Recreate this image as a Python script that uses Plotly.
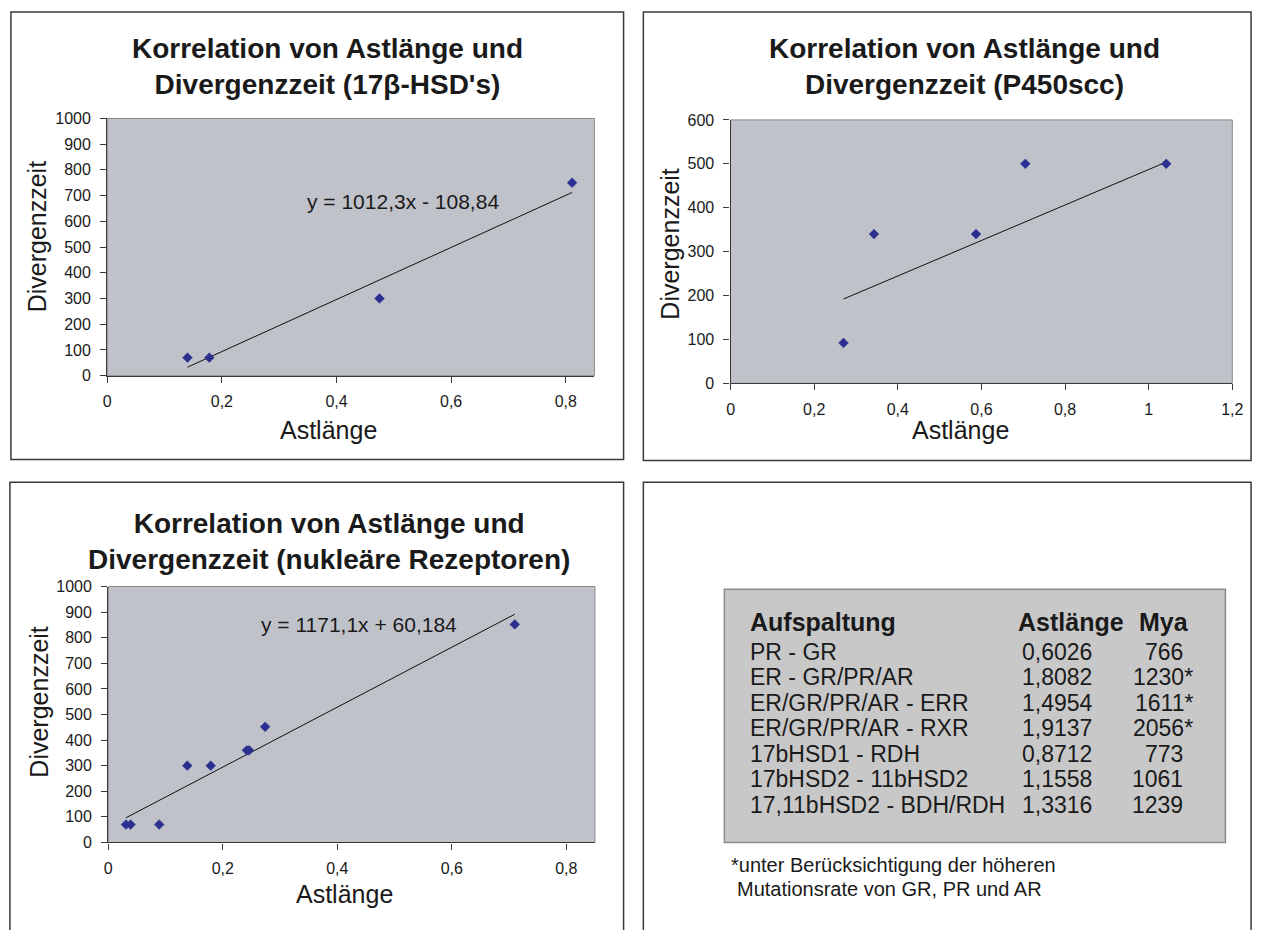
import plotly.graph_objects as go

W, H = 1269, 930

# ---------------- data ----------------
hsd_x = [0.140, 0.178, 0.475, 0.811]
hsd_y = [70, 70, 300, 750]
hsd_fit = [1012.3, -108.84]          # slope, intercept
hsd_eq = "y = 1012,3x - 108,84"

p450_x = [0.270, 0.343, 0.587, 0.705, 1.042]
p450_y = [92, 340, 340, 500, 500]
p450_trend_x = [0.270, 1.042]
p450_trend_y = [192, 504]

nr_x = [0.031, 0.039, 0.089, 0.138, 0.179, 0.242, 0.246, 0.274, 0.710]
nr_y = [70, 70, 70, 300, 300, 360, 360, 452, 852]
nr_fit = [1171.1, 60.184]
nr_eq = "y = 1171,1x + 60,184"

titles = [
    "Korrelation von Astlänge und<br>Divergenzzeit (17β-HSD's)",
    "Korrelation von Astlänge und<br>Divergenzzeit (P450scc)",
    "Korrelation von Astlänge und<br>Divergenzzeit (nukleäre Rezeptoren)",
]
x_title = "Astlänge"
y_title = "Divergenzzeit"

xt_small = [0, 0.2, 0.4, 0.6, 0.8]
xt_small_lbl = ["0", "0,2", "0,4", "0,6", "0,8"]
xt_large = [0, 0.2, 0.4, 0.6, 0.8, 1.0, 1.2]
xt_large_lbl = ["0", "0,2", "0,4", "0,6", "0,8", "1", "1,2"]
yt_1000 = [0, 100, 200, 300, 400, 500, 600, 700, 800, 900, 1000]
yt_600 = [0, 100, 200, 300, 400, 500, 600]

tab_header = ["Aufspaltung", "Astlänge", "Mya"]
tab_split = ["PR - GR", "ER - GR/PR/AR", "ER/GR/PR/AR - ERR", "ER/GR/PR/AR - RXR",
             "17bHSD1 - RDH", "17bHSD2 - 11bHSD2", "17,11bHSD2 - BDH/RDH"]
tab_length = ["0,6026", "1,8082", "1,4954", "1,9137", "0,8712", "1,1558", "1,3316"]
tab_mya = ["766", "1230*", "1611*", "2056*", "773", "1061", "1239"]
footnote = ["*unter Berücksichtigung der höheren", "Mutationsrate von GR, PR und AR"]

# ---------------- helpers ----------------
FONT = "Liberation Sans, Arial, Helvetica, sans-serif"
TXT = "#1a1a1a"
MARK = "#2b2f8f"
PLOTBG = "#c0c2ca"


def px(x):
    return x / W


def py(y):
    return 1 - y / H


fig = go.Figure()

# scatter + trendlines
hsd_tx = [min(hsd_x), max(hsd_x)]
hsd_ty = [hsd_fit[0] * v + hsd_fit[1] for v in hsd_tx]
nr_tx = [min(nr_x), max(nr_x)]
nr_ty = [nr_fit[0] * v + nr_fit[1] for v in nr_tx]

for (tx, ty, ax) in [(hsd_tx, hsd_ty, ""), (p450_trend_x, p450_trend_y, "2"), (nr_tx, nr_ty, "3")]:
    fig.add_trace(go.Scatter(x=tx, y=ty, mode="lines", line=dict(color="#111111", width=1),
                             xaxis="x" + ax, yaxis="y" + ax, showlegend=False, hoverinfo="skip"))
for (sx, sy, ax) in [(hsd_x, hsd_y, ""), (p450_x, p450_y, "2"), (nr_x, nr_y, "3")]:
    fig.add_trace(go.Scatter(x=sx, y=sy, mode="markers",
                             marker=dict(symbol="diamond", size=7.5, color=MARK,
                                         line=dict(color=MARK, width=0.5)),
                             xaxis="x" + ax, yaxis="y" + ax, showlegend=False))

# plot areas in pixel coordinates: (left, right, top, bottom)
areas = [(104.5, 597.5, 112.5, 374.5), (735.3, 1243.0, 114.0, 382.3), (105.5, 598.0, 589.3, 850.0)]

axis_common = dict(showline=True, linecolor="#3a3a3a", linewidth=1.3, ticks="outside",
                   ticklen=6, tickcolor="#3a3a3a", tickwidth=1, showgrid=False, zeroline=False,
                   tickfont=dict(family=FONT, size=16, color=TXT), fixedrange=True)

xranges = [[0, 0.85], [0, 1.2], [0, 0.85]]
yranges = [[0, 1000], [0, 600], [0, 1000]]
xtv = [(xt_small, xt_small_lbl), (xt_large, xt_large_lbl), (xt_small, xt_small_lbl)]
ytv = [yt_1000, yt_600, yt_1000]

layout = dict(width=W, height=H, margin=dict(l=0, r=0, t=0, b=0),
              paper_bgcolor="white", plot_bgcolor=PLOTBG, showlegend=False)
for i, (l, r, t, b) in enumerate(areas):
    sfx = "" if i == 0 else str(i + 1)
    layout["xaxis" + sfx] = dict(axis_common, domain=[px(l), px(r)], range=xranges[i],
                                 tickvals=xtv[i][0], ticktext=xtv[i][1],
                                 anchor="y" + sfx, ticklabelstandoff=5)
    layout["yaxis" + sfx] = dict(axis_common, domain=[py(b), py(t)], range=yranges[i],
                                 tickvals=ytv[i], ticktext=[str(v) for v in ytv[i]],
                                 anchor="x" + sfx, ticklabelstandoff=6)
fig.update_layout(**layout)

shapes = []
# plot area light border
for i in range(3):
    sfx = "" if i == 0 else str(i + 1)
    shapes.append(dict(type="rect", xref="x" + sfx + " domain", yref="y" + sfx + " domain",
                       x0=0, x1=1, y0=0, y1=1, line=dict(color="#8a8a8a", width=1), layer="below"))
# panel borders
panels = [(7, 627, 4, 460), (647, 1262, 4, 461), (6, 627, 483, 945), (647, 1262, 483, 945)]
for (l, r, t, b) in panels:
    shapes.append(dict(type="rect", xref="paper", yref="paper", x0=px(l), x1=px(r),
                       y0=py(b), y1=py(t), line=dict(color="#3a3a3a", width=1.5)))
# table box
shapes.append(dict(type="rect", xref="paper", yref="paper", x0=px(729), x1=px(1236),
                   y0=py(850), y1=py(592), fillcolor="#c8c8c8",
                   line=dict(color="#8a8a8a", width=1.5), layer="below"))
fig.update_layout(shapes=shapes)

ann = []


def text(x, y, s, size, bold=False, xanchor="center", angle=0):
    ann.append(dict(x=px(x), y=py(y), xref="paper", yref="paper", text=("<b>%s</b>" % s) if bold else s,
                    showarrow=False, xanchor=xanchor, yanchor="middle", textangle=angle,
                    font=dict(family=FONT, size=size, color=TXT)))


# chart titles
text(327, 60, titles[0], 28, bold=True)
text(972, 60, titles[1], 28, bold=True)
text(329, 543, titles[2], 28, bold=True)
# axis titles
text(328, 430, x_title, 25)
text(968, 430, x_title, 25)
text(345, 903, x_title, 25)
text(33, 233, y_title, 25, angle=-90)
text(674, 240, y_title, 25, angle=-90)
text(36, 707, y_title, 25, angle=-90)
# equations
text(305, 197, hsd_eq, 21, xanchor="left")
text(258, 628, nr_eq, 21, xanchor="left")

# table
text(753, 625, tab_header[0], 25, bold=True, xanchor="left")
text(1024, 625, tab_header[1], 25, bold=True, xanchor="left")
text(1147, 625, tab_header[2], 25, bold=True, xanchor="left")
for i in range(len(tab_split)):
    yy = 656 + 25.9 * i
    text(753, yy, tab_split[i], 23, xanchor="left")
    text(1028, yy, tab_length[i], 23, xanchor="left")
    m = tab_mya[i]
    text(1205 if m.endswith("*") else 1195, yy, m, 23, xanchor="right")
text(734, 873, footnote[0], 20, xanchor="left")
text(740, 897, footnote[1], 20, xanchor="left")

fig.update_layout(annotations=ann)
fig.write_html("out.html")
